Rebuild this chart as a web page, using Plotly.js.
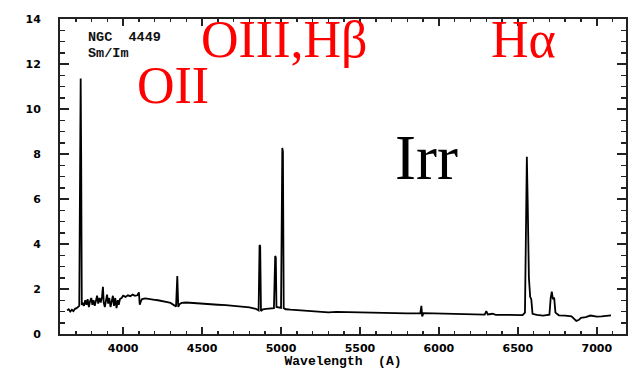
<!DOCTYPE html>
<html>
<head>
<meta charset="utf-8">
<script src="https://cdn.plot.ly/plotly-3.0.1.min.js"></script>
<style>html,body{margin:0;padding:0;background:#fff;}#chart{width:633px;height:369px;}</style>
</head>
<body>
<div id="chart"></div>
<script>
// Wavelength (Angstrom) of each spectrum sample
const wavelength = [
  3645, 3655, 3665, 3675, 3685, 3695, 3705, 3715, 3722, 3728, 3731, 3734, 3738,
  3745, 3752, 3760, 3768, 3775, 3783, 3790, 3798, 3805, 3812, 3820, 3828, 3835,
  3842, 3850, 3858, 3866, 3872, 3877, 3884, 3890, 3898, 3905, 3912, 3920, 3928,
  3935, 3942, 3950, 3958, 3966, 3972, 3980, 3990, 4000, 4015, 4030, 4045, 4060,
  4075, 4090, 4100, 4105, 4112, 4120, 4140, 4160, 4180, 4200, 4220, 4240, 4260,
  4280, 4300, 4320, 4335, 4343, 4349, 4356, 4370, 4400, 4430, 4460, 4500, 4550,
  4600, 4650, 4700, 4750, 4800, 4840, 4858, 4864, 4868, 4873, 4885, 4905, 4930,
  4955, 4963, 4967, 4971, 4985, 5000, 5008, 5012, 5017, 5030, 5060, 5100, 5150,
  5200, 5250, 5300, 5350, 5400, 5450, 5500, 5550, 5600, 5650, 5700, 5750, 5800,
  5850, 5882, 5889, 5894, 5902, 5950, 6000, 6050, 6100, 6150, 6200, 6250, 6290,
  6300, 6310, 6340, 6360, 6400, 6450, 6500, 6530, 6545, 6552, 6557, 6562, 6570,
  6578, 6585, 6593, 6620, 6660, 6700, 6708, 6715, 6722, 6730, 6738, 6760, 6800,
  6840, 6870, 6885, 6900, 6930, 6960, 6980, 7000, 7030, 7060, 7090
];
// Relative flux at each wavelength
const flux = [
  1.05, 1.10, 1.00, 1.08, 1.02, 1.12, 1.15, 1.20, 1.25, 8.20, 11.35, 8.00, 1.30,
  1.35, 1.25, 1.50, 1.30, 1.55, 1.20, 1.45, 1.60, 1.30, 1.50, 1.25, 1.55, 1.70,
  1.35, 1.60, 1.40, 1.65, 2.10, 1.40, 1.20, 1.55, 1.75, 1.35, 1.60, 1.20, 1.55,
  1.70, 1.25, 1.60, 1.15, 1.50, 1.30, 1.55, 1.60, 1.70, 1.65, 1.72, 1.68, 1.75,
  1.70, 1.72, 1.85, 1.30, 1.45, 1.55, 1.58, 1.57, 1.55, 1.52, 1.50, 1.48, 1.45,
  1.42, 1.38, 1.30, 1.22, 2.58, 1.20, 1.32, 1.38, 1.40, 1.38, 1.36, 1.36, 1.33,
  1.30, 1.28, 1.25, 1.22, 1.18, 1.12, 1.05, 3.96, 3.90, 1.02, 1.10, 1.12, 1.15,
  1.15, 3.47, 3.40, 1.20, 1.17, 1.16, 8.27, 8.10, 1.15, 1.10, 1.08, 1.06, 1.03,
  1.00, 0.99, 0.96, 0.98, 0.97, 0.96, 0.96, 0.95, 0.94, 0.94, 0.93, 0.93, 0.92,
  0.92, 0.92, 1.25, 0.78, 0.93, 0.92, 0.92, 0.90, 0.89, 0.88, 0.87, 0.86, 0.86,
  1.02, 0.87, 0.90, 0.85, 0.85, 0.84, 0.84, 0.84, 0.95, 5.00, 7.88, 6.00, 2.50,
  1.65, 1.55, 0.90, 0.85, 0.82, 0.86, 1.60, 1.88, 1.55, 1.62, 0.95, 0.83, 0.82,
  0.78, 0.58, 0.62, 0.72, 0.75, 0.82, 0.78, 0.77, 0.78, 0.80, 0.83
];

const xTickVals = [4000, 4500, 5000, 5500, 6000, 6500, 7000];
const yTickVals = [0, 2, 4, 6, 8, 10, 12, 14];

const tickFont = {family: 'DejaVu Sans', size: 11, color: '#000', weight: 'bold'};

const trace = {
  x: wavelength, y: flux, type: 'scatter', mode: 'lines',
  line: {color: '#000', width: 1.8}, hoverinfo: 'skip'
};

const redFont = {family: 'Liberation Serif, Times New Roman, serif', size: 52, color: '#ff0000'};

const layout = {
  width: 633, height: 369,
  margin: {l: 60, r: 7, t: 19, b: 35, pad: 0},
  paper_bgcolor: '#fff', plot_bgcolor: '#fff',
  showlegend: false,
  xaxis: {
    range: [3600, 7185], showgrid: false, zeroline: false,
    showline: true, linecolor: '#222', linewidth: 2, mirror: 'allticks',
    ticks: 'inside', ticklen: 7, tickwidth: 1.5, tickcolor: '#222',
    tickvals: xTickVals, ticktext: xTickVals.map(String),
    tickfont: tickFont, ticklabelstandoff: 3,
    minor: {dtick: 100, tick0: 3600, ticks: 'inside', ticklen: 3, tickwidth: 1.5, tickcolor: '#222', showgrid: false},
    title: {text: 'Wavelength  (A)', font: {family: 'Liberation Mono', size: 13, color: '#000', weight: 'bold'}, standoff: 3}
  },
  yaxis: {
    range: [0, 14], showgrid: false, zeroline: false,
    showline: true, linecolor: '#222', linewidth: 2, mirror: 'allticks',
    ticks: 'inside', ticklen: 9, tickwidth: 1.5, tickcolor: '#222',
    tickvals: yTickVals, ticktext: yTickVals.map(String),
    tickfont: tickFont, ticklabelstandoff: 15,
    minor: {dtick: 0.5, tick0: 0, ticks: 'inside', ticklen: 5, tickwidth: 1.5, tickcolor: '#222', showgrid: false}
  },
  annotations: [
    {text: 'NGC  4449', xref: 'paper', yref: 'paper', x: 0.046, y: 0.94, xanchor: 'left', yanchor: 'middle', showarrow: false,
     font: {family: 'Liberation Mono', size: 13.5, color: '#111', weight: 'bold'}},
    {text: 'Sm/Im', xref: 'paper', yref: 'paper', x: 0.046, y: 0.889, xanchor: 'left', yanchor: 'middle', showarrow: false,
     font: {family: 'Liberation Mono', size: 13.5, color: '#111', weight: 'bold'}},
    {text: 'OIII,Hβ', xref: 'paper', yref: 'paper', x: 0.246, y: 0.9365, xanchor: 'left', yanchor: 'middle', showarrow: false, font: redFont},
    {text: 'Hα', xref: 'paper', yref: 'paper', x: 0.758, y: 0.9365, xanchor: 'left', yanchor: 'middle', showarrow: false, font: redFont},
    {text: 'OII', xref: 'paper', yref: 'paper', x: 0.1325, y: 0.790, xanchor: 'left', yanchor: 'middle', showarrow: false, font: redFont},
    {text: 'Irr', xref: 'paper', yref: 'paper', x: 0.588, y: 0.5587, xanchor: 'left', yanchor: 'middle', showarrow: false,
     font: {family: 'Liberation Serif, Times New Roman, serif', size: 63, color: '#000'}}
  ]
};

Plotly.newPlot('chart', [trace], layout, {displayModeBar: false, staticPlot: true});
</script>
</body>
</html>
